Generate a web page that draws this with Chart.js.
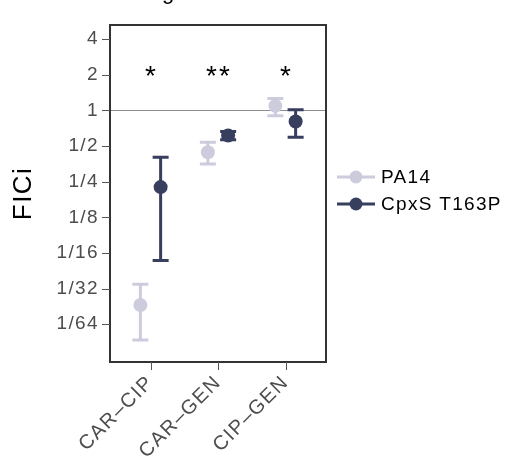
<!DOCTYPE html>
<html>
<head>
<meta charset="utf-8">
<script src="https://cdn.jsdelivr.net/npm/chart.js@4"></script>
<style>
  html, body { margin: 0; padding: 0; background: #fff; }
  #wrap { width: 509px; height: 469px; }
</style>
</head>
<body>
<div id="wrap"><canvas id="ficiChart"></canvas></div>
<script>
// Drug pairs
const categories = ['CAR\u2013CIP', 'CAR\u2013GEN', 'CIP\u2013GEN'];

// FICi values (log2): mean, lower, upper
const pa14Mean = [-5.46, -1.17, 0.13];
const pa14Low  = [-6.44, -1.50, -0.15];
const pa14High = [-4.88, -0.89, 0.34];

const cpxMean = [-2.15, -0.70, -0.31];
const cpxLow  = [-4.21, -0.82, -0.75];
const cpxHigh = [-1.31, -0.59, 0.02];

// significance marks
const stars = ['*', '**', '*'];

// y ticks (log2) and their labels
const tickValues = [2, 1, 0, -1, -2, -3, -4, -5, -6];
const tickLabels = ['4', '2', '1', '1/2', '1/4', '1/8', '1/16', '1/32', '1/64'];

const seriesNames = ['PA14', 'CpxS T163P'];
const colors = ['#cdccdd', '#373e5e'];
const dodge = 0.15;
const FONT = '"Liberation Sans", Arial, sans-serif';

function points(mean, lo, hi, shift) {
  return mean.map((v, i) => ({ x: i + 1 + shift, y: v, lo: lo[i], hi: hi[i] }));
}

const errorBars = {
  id: 'errorBars',
  beforeDraw(chart) {
    // the reference text is set rather wide
    chart.ctx.letterSpacing = '1.4px';
  },
  beforeDatasetsDraw(chart) {
    const ctx = chart.ctx;
    const ys = chart.scales.y;
    const ca = chart.chartArea;
    // reference line at FICi = 1
    ctx.save();
    ctx.strokeStyle = '#8c8c8c';
    ctx.lineWidth = 1;
    ctx.beginPath();
    ctx.moveTo(ca.left, Math.round(ys.getPixelForValue(0)) + 0.5);
    ctx.lineTo(ca.right, Math.round(ys.getPixelForValue(0)) + 0.5);
    ctx.stroke();
    chart.data.datasets.forEach((ds, di) => {
      const meta = chart.getDatasetMeta(di);
      ctx.strokeStyle = ds.borderColor;
      ctx.lineWidth = 3;
      meta.data.forEach((pt, i) => {
        const d = ds.data[i];
        const x = pt.x;
        const y1 = ys.getPixelForValue(d.lo);
        const y2 = ys.getPixelForValue(d.hi);
        ctx.beginPath();
        ctx.moveTo(x, y1); ctx.lineTo(x, y2);
        ctx.moveTo(x - 8, y1); ctx.lineTo(x + 8, y1);
        ctx.moveTo(x - 8, y2); ctx.lineTo(x + 8, y2);
        ctx.stroke();
      });
    });
    ctx.restore();
  },
  afterDraw(chart) {
    const ctx = chart.ctx;
    const xs = chart.scales.x;
    const ys = chart.scales.y;
    const ca = chart.chartArea;
    ctx.save();
    // panel border
    ctx.strokeStyle = '#333333';
    ctx.lineWidth = 2;
    ctx.strokeRect(ca.left, ca.top, ca.right - ca.left, ca.bottom - ca.top);
    // tick marks
    ctx.strokeStyle = '#555555';
    ctx.lineWidth = 1;
    ys.ticks.forEach(t => {
      const y = Math.round(ys.getPixelForValue(t.value)) + 0.5;
      ctx.beginPath(); ctx.moveTo(ca.left - 8, y); ctx.lineTo(ca.left, y); ctx.stroke();
    });
    xs.ticks.forEach(t => {
      const x = Math.round(xs.getPixelForValue(t.value)) + 0.5;
      ctx.beginPath(); ctx.moveTo(x, ca.bottom); ctx.lineTo(x, ca.bottom + 8); ctx.stroke();
    });
    // stars
    ctx.fillStyle = '#000';
    ctx.font = '28px ' + FONT;
    ctx.textAlign = 'center';
    ctx.textBaseline = 'middle';
    ctx.letterSpacing = '2px';
    stars.forEach((s, i) => {
      ctx.fillText(s, xs.getPixelForValue(i + 1) + 1, ys.getPixelForValue(1.02) + 3);
    });
    ctx.letterSpacing = '0px';
    // cut-off title
    ctx.font = '22px ' + FONT;
    ctx.textBaseline = 'alphabetic';
    ctx.fillText('g', 168, -1);
    // legend
    ctx.font = '19px ' + FONT;
    ctx.letterSpacing = '1.3px';
    ctx.textAlign = 'left';
    ctx.textBaseline = 'middle';
    seriesNames.forEach((name, i) => {
      const y = 177 + i * 27;
      ctx.strokeStyle = colors[i];
      ctx.lineWidth = 3;
      ctx.beginPath();
      ctx.moveTo(337, y); ctx.lineTo(375, y);
      ctx.stroke();
      ctx.fillStyle = colors[i];
      ctx.beginPath();
      ctx.arc(356, y, 6.5, 0, Math.PI * 2);
      ctx.fill();
      ctx.fillStyle = '#000';
      ctx.fillText(name, 381, y + 1);
    });
    ctx.restore();
  }
};

new Chart(document.getElementById('ficiChart'), {
  type: 'scatter',
  data: {
    datasets: [
      {
        label: seriesNames[0],
        data: points(pa14Mean, pa14Low, pa14High, -dodge),
        backgroundColor: colors[0],
        borderColor: colors[0],
        pointRadius: 7,
        pointHoverRadius: 7,
        borderWidth: 0
      },
      {
        label: seriesNames[1],
        data: points(cpxMean, cpxLow, cpxHigh, dodge),
        backgroundColor: colors[1],
        borderColor: colors[1],
        pointRadius: 7,
        pointHoverRadius: 7,
        borderWidth: 0
      }
    ]
  },
  options: {
    responsive: true,
    maintainAspectRatio: false,
    animation: false,
    layout: { padding: { top: 25, right: 183, left: 0, bottom: 0 } },
    plugins: {
      legend: { display: false },
      tooltip: { enabled: false }
    },
    scales: {
      x: {
        type: 'linear',
        min: 0.4,
        max: 3.6,
        grid: { display: false, drawTicks: false },
        border: { display: false },
        afterBuildTicks(scale) {
          scale.ticks = categories.map((c, i) => ({ value: i + 1 }));
        },
        afterFit(scale) { scale.height = 107; },
        ticks: {
          minRotation: 45,
          maxRotation: 45,
          padding: 9,
          color: '#4d4d4d',
          font: { family: FONT, size: 20 },
          callback: (v) => categories[v - 1]
        }
      },
      y: {
        type: 'linear',
        min: -7.06,
        max: 2.4,
        grid: { display: false, drawTicks: false },
        border: { display: false },
        afterBuildTicks(scale) {
          scale.ticks = tickValues.map(v => ({ value: v }));
        },
        afterFit(scale) { scale.width = 110; },
        title: {
          display: true,
          text: 'FICi',
          color: '#000',
          font: { family: FONT, size: 26 },
          padding: { top: 8, bottom: 0 }
        },
        ticks: {
          padding: 11,
          color: '#4d4d4d',
          font: { family: FONT, size: 19 },
          callback: (v) => tickLabels[tickValues.indexOf(v)]
        }
      }
    }
  },
  plugins: [errorBars]
});
</script>
</body>
</html>
